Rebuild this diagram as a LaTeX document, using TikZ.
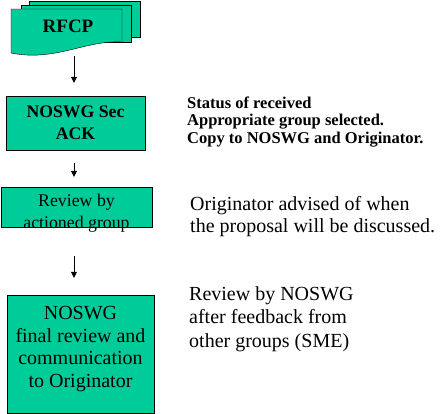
\documentclass[tikz,border=0pt]{standalone}
\usepackage{fontspec}
\setmainfont{Liberation Serif}
\usetikzlibrary{arrows.meta}
\definecolor{procgreen}{RGB}{0,204,153}

\begin{document}
\begin{tikzpicture}[x=1pt,y=-1pt,>={Triangle[length=6pt,width=6pt]},
    proc/.style={draw,fill=procgreen,align=center,inner sep=0pt},
    note/.style={anchor=west,align=left,inner sep=0pt}]

                \useasboundingbox (0,0) rectangle (441,413);

                % stacked documents
                \draw[fill=procgreen] (29,1) rectangle (140,37);
                \draw[fill=procgreen] (21,5) rectangle (131,42);
                \draw[fill=procgreen] (11,9) -- (122,9) -- (122,42)
                      .. controls (85,40) and (55,62) .. (11,53) -- cycle;
                \node[font=\fontsize{19}{22}\selectfont\bfseries] (rfcp) at (68,26) {RFCP};
                \coordinate (rfcpbot) at (74,56);

                \node[proc,minimum width=139pt,minimum height=54pt,
                      font=\fontsize{17.7}{22}\selectfont\bfseries] (ack) at (75.5,123)
                      {NOSWG Sec\\ACK};

                \node[proc,minimum width=151pt,minimum height=40pt] (review) at (76.5,207) {};
                \node[align=center,font=\fontsize{17.8}{22}\selectfont] (reviewtxt)
                      at ([yshift=-6pt]review.center) {Review by\\actioned group};

                \node[proc,minimum width=147pt,minimum height=118pt] (final) at (80.5,354) {};
                \node[align=center,font=\fontsize{20}{22.5}\selectfont] (finaltxt)
                      at ([yshift=5pt]final.center) {NOSWG\\final review and\\communication\\to Originator};

                \node[note,font=\fontsize{16.5}{17.5}\selectfont\bfseries] (status) at (187,122)
                      {Status of received\\Appropriate group selected.\\Copy to NOSWG and Originator.};

                \node[note,font=\fontsize{20}{22}\selectfont] (advised) at (190,217)
                      {Originator advised of when\\the proposal will be discussed.};

                \node[note,font=\fontsize{20}{23.5}\selectfont] (bynoswg) at (189,319)
                      {Review by NOSWG\\after feedback from\\other groups (SME)};

                \path[->] (rfcpbot) edge [shorten >=13pt] (rfcpbot |- ack.north)
                          (ack.south -| rfcpbot) edge [shorten <=13pt,shorten >=10pt] (review.north -| rfcpbot)
                          (review.south -| rfcpbot) edge [shorten <=29pt,shorten >=17pt] (final.north -| rfcpbot);

            \end{tikzpicture}
\end{document}
